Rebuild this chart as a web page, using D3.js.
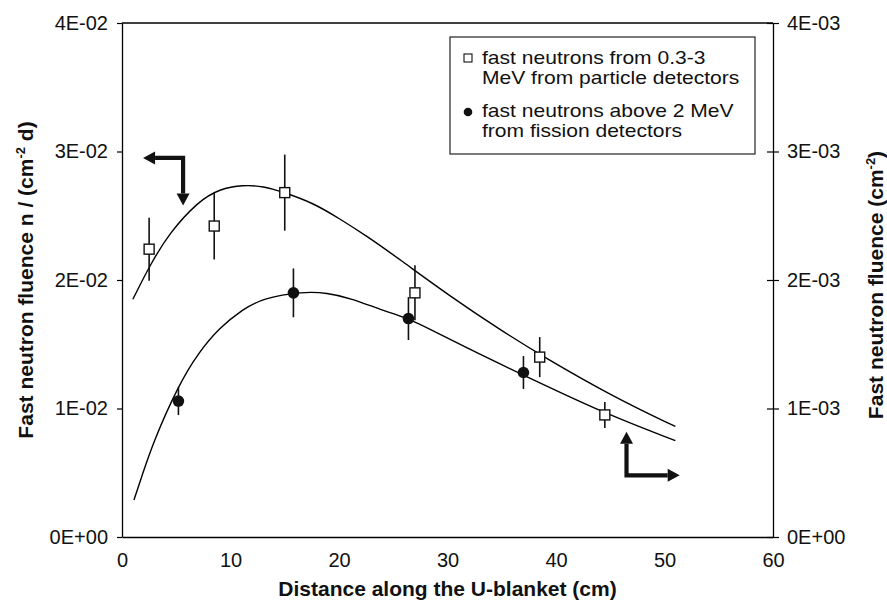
<!DOCTYPE html>
<html><head><meta charset="utf-8">
<script src="https://cdn.jsdelivr.net/npm/d3@7/dist/d3.min.js"></script>
<style>body{margin:0;background:#fff} text{font-family:"Liberation Sans",Arial,Helvetica,sans-serif}</style>
</head><body><svg id="c" width="887" height="600"></svg>
<script>
// ---- data ----
const xTicks = [0, 10, 20, 30, 40, 50, 60];
const yLeftTicks = [0, 0.01, 0.02, 0.03, 0.04];
const yLeftTickLabels = ["0E+00", "1E-02", "2E-02", "3E-02", "4E-02"];
const yRightTicks = [0, 0.001, 0.002, 0.003, 0.004];
const yRightTickLabels = ["0E+00", "1E-03", "2E-03", "3E-03", "4E-03"];

// open squares: fast neutrons 0.3-3 MeV (particle detectors), left axis n/(cm^2 d)
const sqX = [2.5, 8.5, 15.0, 27.0, 38.5, 44.5];
const sqY = [0.0224, 0.0242, 0.0268, 0.0190, 0.0140, 0.0095];
const sqErr = [0.00245, 0.0026, 0.00296, 0.00214, 0.00156, 0.00101];

// filled circles: fast neutrons above 2 MeV (fission detectors), right axis cm^-2
const ciX = [5.2, 15.8, 26.4, 37.0];
const ciY = [0.001058, 0.00190, 0.00170, 0.00128];
const ciErr = [0.000109, 0.00019, 0.000167, 0.000128];

// fitted curve through squares (left axis)
const upX = [1.0, 2.6, 4.4, 7.0, 9.0, 11.2, 13.0, 15.0, 17.6, 20.0, 22.6, 25.6, 30.3, 34.9, 38.5, 45.3, 51.0];
const upY = [0.0185, 0.0212, 0.0237, 0.0261, 0.0271, 0.0274, 0.0273, 0.0268, 0.0260, 0.0248, 0.0234, 0.0216, 0.0187, 0.0161, 0.0142, 0.0109, 0.0086];

// fitted curve through circles (right axis)
const loX = [1.1, 1.7, 2.9, 5.2, 7.0, 9.0, 11.1, 13.0, 16.7, 18.9, 21.0, 23.8, 26.4, 28.1, 33.0, 37.0, 44.5, 51.0];
const loY = [0.000288, 0.000440, 0.000745, 0.00118, 0.00143, 0.00163, 0.00177, 0.00186, 0.00191, 0.00190, 0.00186, 0.00177, 0.00170, 0.00163, 0.00142, 0.00126, 0.00096, 0.00075];

const legendLabels = [["fast neutrons from 0.3-3", "MeV from particle detectors"],
                      ["fast neutrons above 2 MeV", "from fission detectors"]];

const xTitle = "Distance along the U-blanket (cm)";

// arrows (in left-axis data units): corner, horizontal tip x, vertical tip y
const arrowLeft = {cx: 5.63, cy: 0.0295, tipX: 1.94, tipY: 0.0258};
const arrowRight = {cx: 46.5, cy: 0.0048, tipX: 51.4, tipY: 0.0082};

// ---- layout ----
const L = 122, R = 773, T = 23, B = 537;
const svg = d3.select("#c");
const x = d3.scaleLinear().domain([0, 60]).range([L, R]);
const yL = d3.scaleLinear().domain([0, 0.04]).range([B, T]);
const yR = d3.scaleLinear().domain([0, 0.004]).range([B, T]);
const FS = 20;

// top frame
svg.append("line").attr("x1", L).attr("x2", R).attr("y1", T).attr("y2", T)
  .attr("stroke", "#000").attr("stroke-width", 1.3);

// axes
const gx = svg.append("g").attr("transform", `translate(0,${B})`)
  .call(d3.axisBottom(x).tickValues(xTicks).tickSize(0).tickSizeOuter(0).tickPadding(16).tickFormat(d3.format("d")));
const gl = svg.append("g").attr("transform", `translate(${L},0)`)
  .call(d3.axisLeft(yL).tickValues(yLeftTicks).tickFormat((d, i) => yLeftTickLabels[i]).tickSize(5).tickSizeOuter(0).tickPadding(9));
const gr = svg.append("g").attr("transform", `translate(${R},0)`)
  .call(d3.axisRight(yR).tickValues(yRightTicks).tickFormat((d, i) => yRightTickLabels[i]).tickSize(6).tickSizeOuter(0).tickPadding(8));
gr.selectAll(".tick line").attr("x1", -6);
[gx, gl, gr].forEach(g => {
  g.attr("font-size", FS).attr("font-family", "Liberation Sans, Arial, sans-serif");
  g.selectAll("path.domain").attr("stroke", "#000").attr("stroke-width", 1.3);
  g.selectAll(".tick line").attr("stroke", "#000").attr("stroke-width", 1.2);
  g.selectAll(".tick text").attr("fill", "#111");
});

// axis titles
svg.append("text").attr("x", (L + R) / 2).attr("y", 596).attr("text-anchor", "middle")
  .attr("font-size", 21).attr("font-weight", "bold").attr("fill", "#111").text(xTitle);

const lt = svg.append("text").attr("transform", "translate(33,280) rotate(-90)")
  .attr("text-anchor", "middle").attr("font-size", 21).attr("font-weight", "bold").attr("fill", "#111");
lt.append("tspan").text("Fast neutron fluence n / (cm");
lt.append("tspan").attr("dy", -8).attr("font-size", 13).text("-2");
lt.append("tspan").attr("dy", 8).text(" d)");

const rt = svg.append("text").attr("transform", "translate(883,285) rotate(-90)")
  .attr("text-anchor", "middle").attr("font-size", 21).attr("font-weight", "bold").attr("fill", "#111");
rt.append("tspan").text("Fast neutron fluence (cm");
rt.append("tspan").attr("dy", -8).attr("font-size", 13).text("-2");
rt.append("tspan").attr("dy", 8).text(")");

// curves
const lineL = d3.line().x(d => x(d[0])).y(d => yL(d[1])).curve(d3.curveBasis);
const lineR = d3.line().x(d => x(d[0])).y(d => yR(d[1])).curve(d3.curveBasis);
svg.append("path").datum(d3.zip(upX, upY)).attr("d", lineL)
  .attr("fill", "none").attr("stroke", "#000").attr("stroke-width", 1.4);
svg.append("path").datum(d3.zip(loX, loY)).attr("d", lineR)
  .attr("fill", "none").attr("stroke", "#000").attr("stroke-width", 1.4);

// error bars
const sq = d3.zip(sqX, sqY, sqErr), ci = d3.zip(ciX, ciY, ciErr);
svg.append("g").selectAll("line").data(sq).join("line")
  .attr("x1", d => x(d[0])).attr("x2", d => x(d[0]))
  .attr("y1", d => yL(d[1] - d[2])).attr("y2", d => yL(d[1] + d[2]))
  .attr("stroke", "#111").attr("stroke-width", 1.6);
svg.append("g").selectAll("line").data(ci).join("line")
  .attr("x1", d => x(d[0])).attr("x2", d => x(d[0]))
  .attr("y1", d => yR(d[1] - d[2])).attr("y2", d => yR(d[1] + d[2]))
  .attr("stroke", "#111").attr("stroke-width", 1.6);

// markers
const S = 10;
svg.append("g").selectAll("rect").data(sq).join("rect")
  .attr("x", d => x(d[0]) - S / 2).attr("y", d => yL(d[1]) - S / 2)
  .attr("width", S).attr("height", S)
  .attr("fill", "#fff").attr("stroke", "#111").attr("stroke-width", 1.4);
svg.append("g").selectAll("circle").data(ci).join("circle")
  .attr("cx", d => x(d[0])).attr("cy", d => yR(d[1])).attr("r", 5.8)
  .attr("fill", "#111");

// legend
const lg = svg.append("g");
lg.append("rect").attr("x", 450).attr("y", 37).attr("width", 305).attr("height", 117)
  .attr("fill", "#fff").attr("stroke", "#222").attr("stroke-width", 1.2);
lg.append("rect").attr("x", 464).attr("y", 54).attr("width", 8).attr("height", 8)
  .attr("fill", "#fff").attr("stroke", "#111").attr("stroke-width", 1.1);
lg.append("circle").attr("cx", 468).attr("cy", 112).attr("r", 4.3).attr("fill", "#111");
const lgBase = [64, 117];
legendLabels.forEach((lines, i) => lines.forEach((s, j) => {
  lg.append("text").attr("transform", `translate(482,${lgBase[i] + j * 20.3}) scale(1.17,1)`)
    .attr("font-size", 18).attr("fill", "#111").text(s);
}));

// arrows
function arrow(a, dirX, dirY) {
  const cx = x(a.cx), cy = yL(a.cy), tx = x(a.tipX), ty = yL(a.tipY);
  const H = 12, W = 6.5, sw = 4.2;
  const g = svg.append("g");
  g.append("path").attr("d", `M${tx - dirX * H},${cy}H${cx}V${ty - dirY * H}`)
    .attr("fill", "none").attr("stroke", "#111").attr("stroke-width", sw).attr("stroke-linejoin", "miter");
  g.append("path").attr("d", `M${tx},${cy}L${tx - dirX * H},${cy - W}L${tx - dirX * H},${cy + W}Z`).attr("fill", "#111");
  g.append("path").attr("d", `M${cx},${ty}L${cx - W},${ty - dirY * H}L${cx + W},${ty - dirY * H}Z`).attr("fill", "#111");
}
arrow(arrowLeft, -1, 1);
arrow(arrowRight, 1, -1);
</script></body></html>
